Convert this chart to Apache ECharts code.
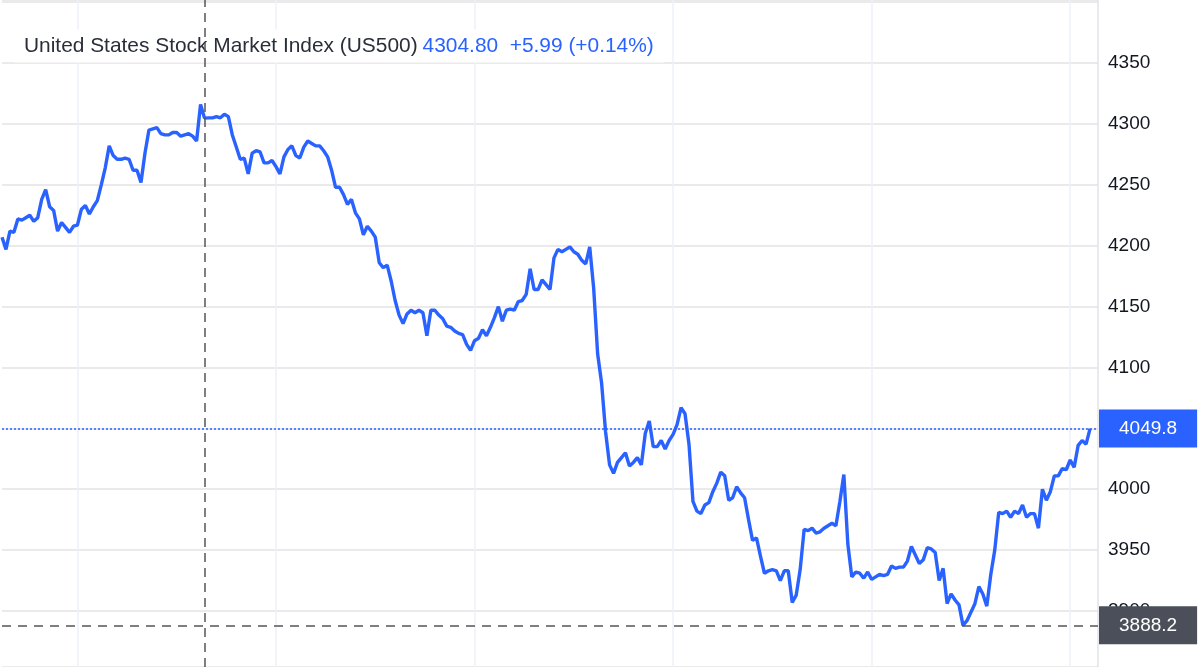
<!DOCTYPE html>
<html>
<head>
<meta charset="utf-8">
<title>US500</title>
<script src="https://cdn.jsdelivr.net/npm/echarts@6/dist/echarts.min.js"></script>
<style>
  html, body { margin: 0; padding: 0; background: #fff; }
  #chart { width: 1200px; height: 667px; }
</style>
</head>
<body>
<div id="chart"></div>
<script>
// price samples, one array per session (sessions split where the vertical grid lines are)
const day1 = [4207, 4197, 4212, 4211, 4222, 4221, 4223, 4225, 4220, 4223, 4238, 4246, 4232, 4229, 4212, 4219, 4215, 4211, 4216];
const day2 = [4217, 4230, 4233, 4226, 4232, 4237, 4250, 4264, 4282, 4274,
  4271, 4271, 4272, 4271, 4262, 4262, 4252, 4276, 4295, 4296,
  4297, 4292, 4291, 4291, 4293, 4293, 4290, 4291, 4292, 4290,
  4286, 4316, 4304.8, 4305, 4305, 4306, 4305, 4308, 4306, 4291,
  4281, 4271, 4272, 4259, 4276, 4278, 4277, 4268, 4268, 4270];
const day3 = [4265, 4259, 4273, 4279, 4282, 4274, 4272, 4281, 4286, 4284,
  4282, 4282, 4278, 4273, 4262, 4248, 4248, 4242, 4234, 4238,
  4227, 4222, 4209, 4216, 4212, 4207, 4186, 4182, 4184, 4171,
  4155, 4143, 4136, 4144, 4147, 4145, 4147, 4145, 4126, 4147,
  4147, 4143, 4140, 4134, 4133, 4130, 4128, 4127, 4119, 4114];
const day4 = [4122, 4124, 4131, 4126, 4133, 4141, 4150, 4138, 4147, 4148,
  4147, 4154, 4155, 4160, 4181, 4164, 4164, 4172, 4168, 4164,
  4190, 4197, 4195, 4197, 4199, 4195, 4193, 4188, 4185, 4199,
  4165, 4111, 4087, 4047, 4020, 4013, 4022, 4026, 4030, 4019,
  4022, 4026, 4020, 4046, 4056, 4035, 4035, 4040, 4033, 4040];
const day5 = [4045, 4053, 4067, 4062, 4037, 3990, 3982, 3980, 3987, 3989,
  3998, 4005, 4014, 4011, 3991, 3993, 4002, 3997, 3993, 3975,
  3958, 3960, 3945, 3931, 3933, 3934, 3933, 3925, 3933, 3933,
  3907, 3913, 3934, 3967, 3966, 3968, 3964, 3965, 3968, 3970,
  3972, 3970, 3990, 4012, 3955, 3928, 3932, 3931, 3927, 3932];
const day6 = [3926, 3928, 3930, 3929, 3930, 3937, 3935, 3936, 3936, 3941,
  3953, 3946, 3939, 3942, 3952, 3951, 3948, 3925, 3935, 3906,
  3914, 3909, 3905, 3888.2, 3892, 3899, 3906, 3920, 3914, 3904,
  3930, 3950, 3981, 3980, 3982, 3977, 3982, 3980, 3987, 3977,
  3980, 3980, 3968, 4000, 3991, 3998, 4011, 4011, 4017, 4016];
const day7 = [4024, 4018, 4036, 4040, 4037, 4049.8];

const prices = [].concat(day1, day2, day3, day4, day5, day6, day7);
const barCount = 277;        // bars on the time axis (last ones empty, right padding)
const sessionStarts = [19, 69, 119, 169, 219, 269];  // bars with a vertical grid line
const crossBar = 51;         // bar under the vertical crosshair
const yTicks = [3900, 3950, 4000, 4050, 4100, 4150, 4200, 4250, 4300, 4350];

const titleName = 'United States Stock Market Index (US500)';
const titleQuote = '4304.80  +5.99 (+0.14%)';

const blue = '#2962ff';
const lastPrice = prices[prices.length - 1];
const lowPrice = Math.min(...prices);
const bars = Array.from({ length: barCount }, (_, i) => String(i));

const chart = echarts.init(document.getElementById('chart'));

const option = {
  animation: false,
  backgroundColor: '#fff',
  textStyle: { fontFamily: '"Liberation Sans", Arial, sans-serif' },
  title: {
    z: 1,
    left: 14,
    top: 30,
    padding: [6, 10],
    backgroundColor: '#fff',
    text: '{a|' + titleName + '} {b|' + titleQuote + '}',
    textStyle: {
      fontWeight: 'normal',
      rich: {
        a: { fontSize: 20.9, lineHeight: 20, fontWeight: 'normal', color: '#2a2e39' },
        b: { fontSize: 20.9, lineHeight: 20, fontWeight: 'normal', color: blue }
      }
    }
  },
  grid: { left: 2, right: 102, top: 0, bottom: 0 },
  xAxis: {
    type: 'category',
    data: bars,
    boundaryGap: false,
    axisLine: { show: false },
    axisTick: { show: false },
    axisLabel: { show: false },
    splitLine: {
      show: true,
      interval: (i) => sessionStarts.includes(i),
      lineStyle: { color: '#edf1f6', width: 1.5 }
    }
  },
  yAxis: {
    type: 'value',
    position: 'right',
    min: 3854,
    max: 4401.8,
    splitNumber: 10,
    axisLine: { show: true, lineStyle: { color: '#e0e3eb', width: 1.5 } },
    axisTick: { show: false },
    axisLabel: {
      margin: 10,
      fontSize: 19,
      color: '#131722',
      formatter: v => (yTicks.includes(v) ? String(v) : '')
    },
    splitLine: { show: true, lineStyle: { color: '#e3e3e3', width: 1.5 } }
  },
  series: [{
    type: 'line',
    z: 2,
    data: prices,
    showSymbol: false,
    lineStyle: { color: blue, width: 3.4 },
    markLine: {
      silent: true,
      symbol: 'none',
      animation: false,
      data: [
        {
          yAxis: lastPrice,
          lineStyle: { color: blue, type: [2, 2], width: 1.5 },
          label: {
            position: 'end', distance: 1,
            formatter: () => lastPrice.toFixed(1),
            color: '#fff', fontSize: 19, lineHeight: 19,
            backgroundColor: blue, padding: [10, 20, 9, 20]
          }
        },
        {
          yAxis: lowPrice,
          lineStyle: { color: '#555', type: [9, 7], width: 1.5 },
          label: {
            position: 'end', distance: 1,
            formatter: () => lowPrice.toFixed(1),
            color: '#fff', fontSize: 19, lineHeight: 19,
            backgroundColor: '#4a4f5a', padding: [10, 20, 9, 20]
          }
        },
        {
          xAxis: bars[crossBar],
          lineStyle: { color: '#555', type: [9, 6], width: 1.5 },
          label: { show: false }
        }
      ]
    }
  }]
};

chart.setOption(option);
</script>
</body>
</html>
